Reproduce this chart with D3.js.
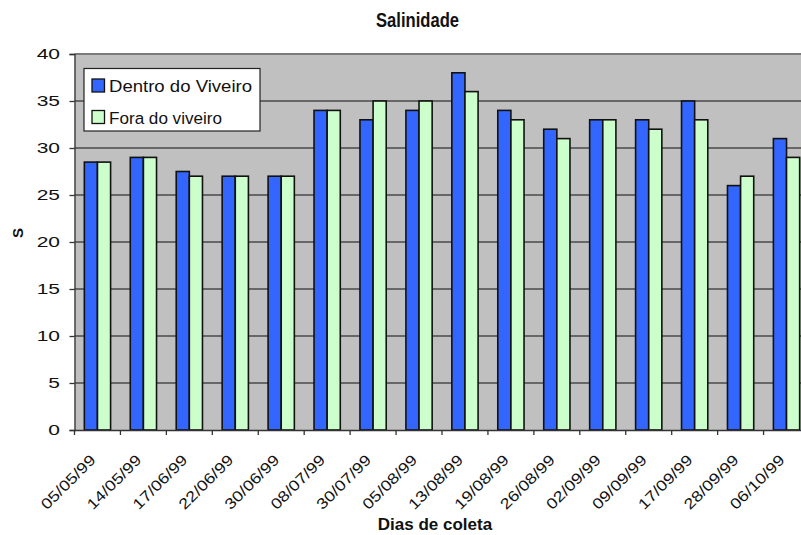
<!DOCTYPE html>
<html>
<head>
<meta charset="utf-8">
<script src="https://cdn.jsdelivr.net/npm/d3@7"></script>
<style>
  html, body { margin: 0; padding: 0; background: #fff; }
  svg { display: block; font-family: "Liberation Sans", Arial, sans-serif; }
</style>
</head>
<body>
<svg id="chart" width="801" height="535"></svg>
<script>
// Sampling dates
const categories = ["05/05/99","14/05/99","17/06/99","22/06/99","30/06/99","08/07/99","30/07/99","05/08/99",
  "13/08/99","19/08/99","26/08/99","02/09/99","09/09/99","17/09/99","28/09/99","06/10/99"];
// Salinity inside the nursery
const dentro = [28.5, 29, 27.5, 27, 27, 34, 33, 34, 38, 34, 32, 33, 33, 35, 26, 31];
// Salinity outside the nursery
const fora = [28.5, 29, 27, 27, 27, 34, 35, 35, 36, 33, 31, 33, 32, 33, 27, 29];
const yTicks = [0, 5, 10, 15, 20, 25, 30, 35, 40];
const seriesNames = ["Dentro do Viveiro", "Fora do viveiro"];
const colors = ["#3366ff", "#ccffcc"];

const svg = d3.select("#chart");
const plot = { left: 74.5, top: 54, right: 809.5, bottom: 430 };

const x = d3.scaleBand().domain(categories).range([plot.left, plot.right]).padding(0);
const y = d3.scaleLinear().domain([0, 40]).range([plot.bottom, plot.top]);
// two bars per group, gap of 1.5 bar widths between groups
const bw = x.bandwidth() / 3.5;
const xs = d3.scaleBand().domain([0, 1]).range([0.75 * bw, 2.75 * bw]);

// plot background
svg.append("rect")
  .attr("x", plot.left).attr("y", plot.top)
  .attr("width", plot.right - plot.left).attr("height", plot.bottom - plot.top)
  .attr("fill", "#c0c0c0");

// horizontal gridlines
svg.append("g").selectAll("line").data(yTicks.filter(d => d > 0)).join("line")
  .attr("x1", plot.left).attr("x2", plot.right)
  .attr("y1", d => y(d)).attr("y2", d => y(d))
  .attr("stroke", d => d === 40 ? "#7a7a7a" : "#4a4a4a")
  .attr("stroke-width", d => d === 40 ? 2 : 1.3);

// bars
const groups = svg.append("g").selectAll("g").data(categories).join("g")
  .attr("transform", d => `translate(${x(d)},0)`);
[dentro, fora].forEach((vals, si) => {
  groups.append("rect")
    .attr("x", xs(si))
    .attr("width", xs.bandwidth())
    .attr("y", (d, i) => y(vals[i]))
    .attr("height", (d, i) => y(0) - y(vals[i]))
    .attr("fill", colors[si])
    .attr("stroke", "#111")
    .attr("stroke-width", 1.6);
});

// y axis line and ticks
const yAxis = svg.append("g")
  .attr("transform", `translate(${plot.left},0)`)
  .call(d3.axisLeft(y).tickValues(yTicks).tickSize(5).tickFormat(""));
yAxis.select(".domain").attr("stroke", "#333").attr("stroke-width", 1.3);
yAxis.selectAll(".tick line").attr("stroke", "#333").attr("stroke-width", 1.3);

// y tick labels (wide face)
svg.append("g").selectAll("text").data(yTicks).join("text")
  .attr("transform", d => `translate(60,${y(d)}) scale(1.4,1)`)
  .attr("text-anchor", "end")
  .attr("dy", "0.36em")
  .attr("font-size", 15)
  .attr("fill", "#111")
  .text(d => d);

// x axis line and category boundary ticks
const xAxis = svg.append("g")
  .attr("transform", `translate(0,${plot.bottom})`)
  .call(d3.axisBottom(x).tickSize(0).tickFormat(""));
xAxis.select(".domain").attr("stroke", "#333").attr("stroke-width", 1.3);
svg.append("g").selectAll("line").data(categories).join("line")
  .attr("x1", d => x(d)).attr("x2", d => x(d))
  .attr("y1", plot.bottom).attr("y2", plot.bottom + 5)
  .attr("stroke", "#333").attr("stroke-width", 1.3);

// rotated date labels, ending under each group's centre
svg.append("g").selectAll("text").data(categories).join("text")
  .attr("transform", d => `translate(${x(d) + x.bandwidth() / 2 - 1},461) rotate(-45) scale(1.2,1)`)
  .attr("text-anchor", "end")
  .attr("font-size", 15)
  .attr("fill", "#111")
  .text(d => d);

// titles
svg.append("text").attr("x", 417.5).attr("y", 27).attr("text-anchor", "middle")
  .attr("font-size", 19.5).attr("font-weight", "bold").attr("fill", "#111")
  .attr("textLength", 83).attr("lengthAdjust", "spacingAndGlyphs")
  .text("Salinidade");
svg.append("text").attr("x", 435).attr("y", 530).attr("text-anchor", "middle")
  .attr("font-size", 17).attr("font-weight", "bold").attr("fill", "#111").text("Dias de coleta");
svg.append("text").attr("transform", "translate(23,233) rotate(-90)").attr("text-anchor", "middle")
  .attr("font-size", 15).attr("font-weight", "bold").attr("fill", "#111").text("S");

// legend
const lg = svg.append("g").attr("transform", "translate(84,68.5)");
lg.append("rect").attr("width", 176).attr("height", 62.5)
  .attr("fill", "#fff").attr("stroke", "#222").attr("stroke-width", 1.2);
seriesNames.forEach((name, i) => {
  const row = lg.append("g").attr("transform", `translate(0,${17 + i * 31.5})`);
  row.append("rect").attr("x", 8).attr("y", -6.5).attr("width", 12.5).attr("height", 13)
    .attr("fill", colors[i]).attr("stroke", "#111").attr("stroke-width", 1.3);
  row.append("text").attr("x", 25).attr("y", 6.5).attr("font-size", 16.3).attr("fill", "#111")
    .attr("textLength", name === seriesNames[0] ? 143 : 113).attr("lengthAdjust", "spacingAndGlyphs")
    .text(name);
});
</script>
</body>
</html>
